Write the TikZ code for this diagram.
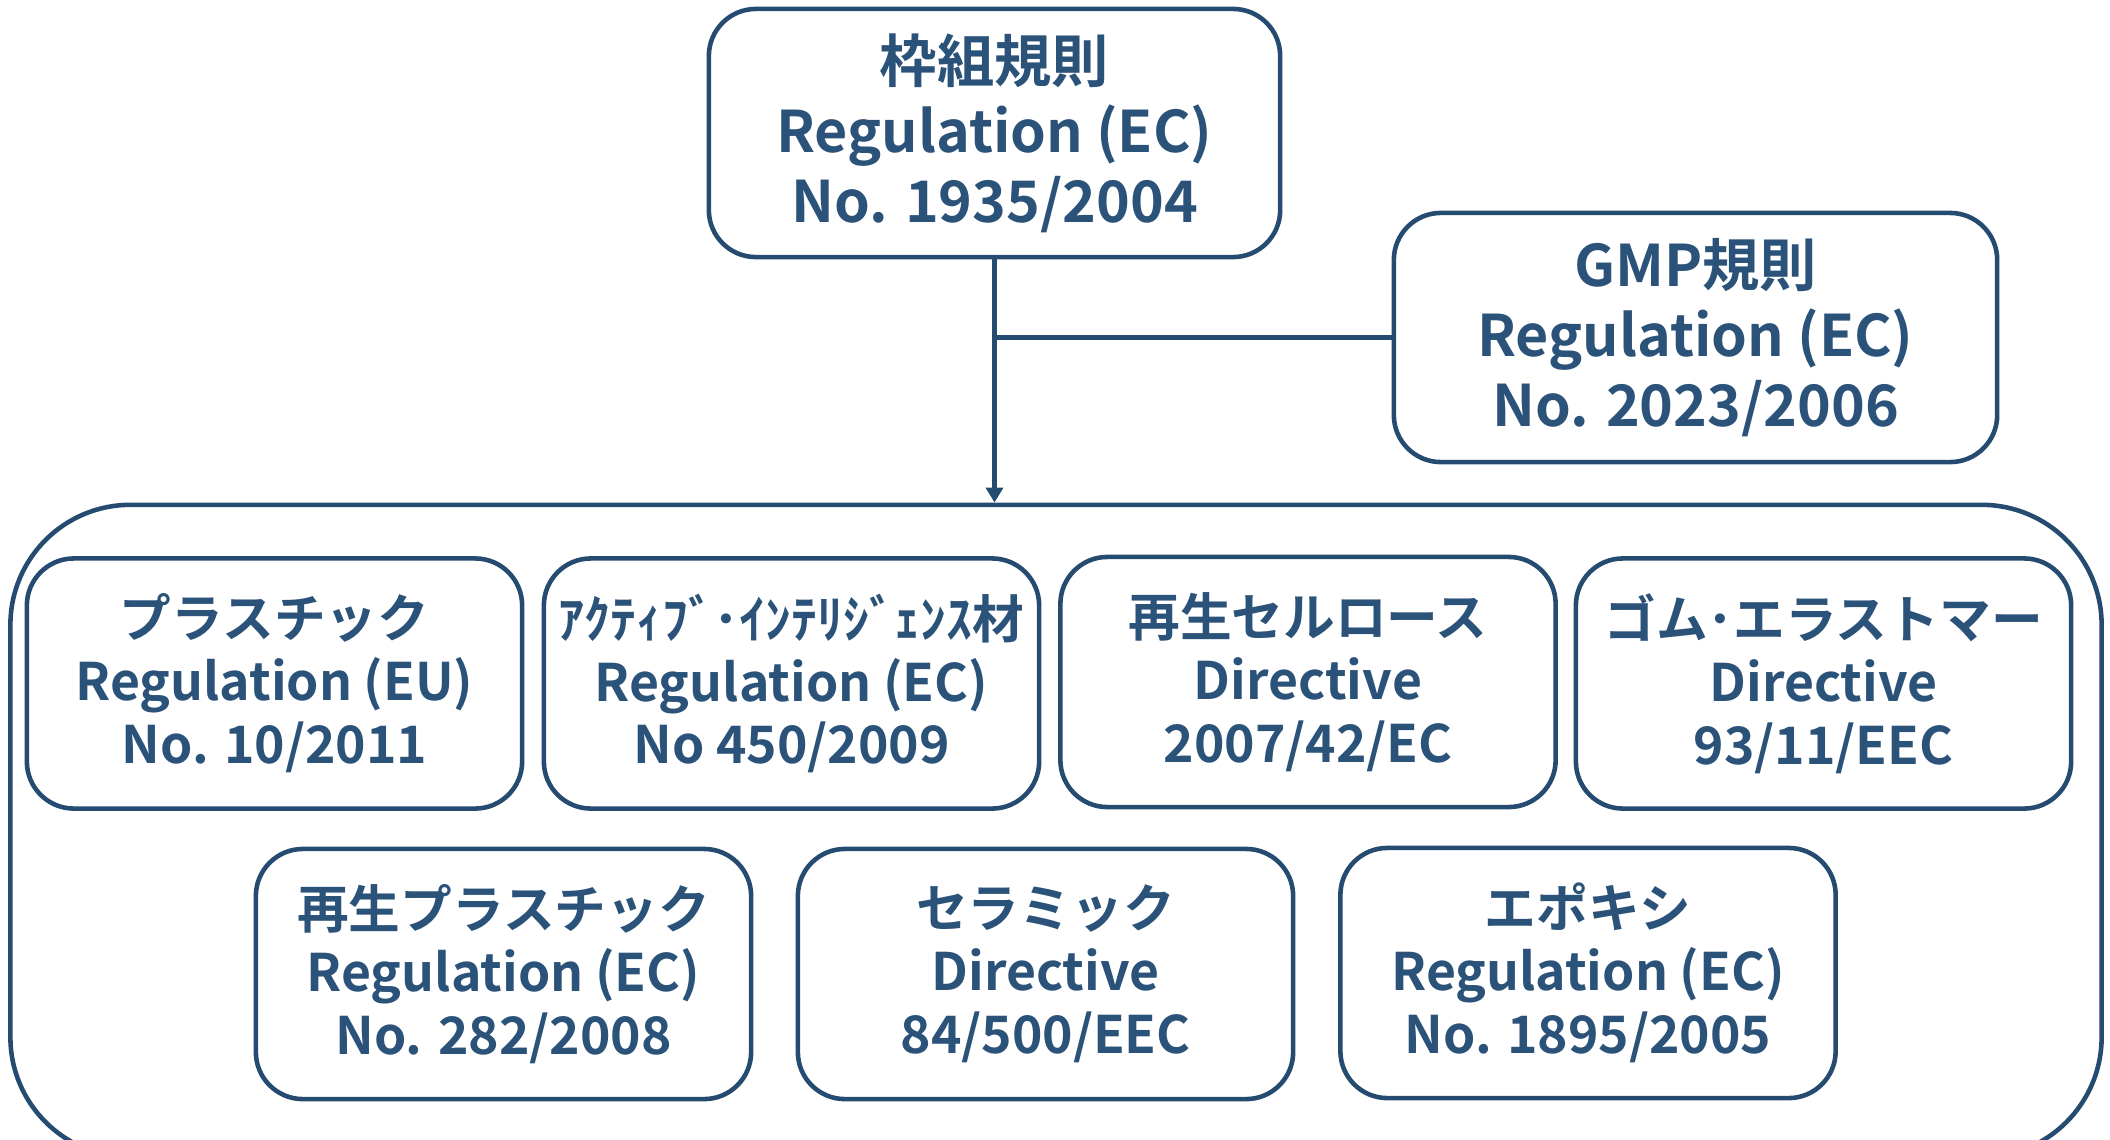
\documentclass[tikz,border=0pt]{standalone}
\usepackage{fontspec}
\setmainfont{Noto Sans CJK JP}[BoldFont={* Bold}]
\usetikzlibrary{arrows.meta}
\definecolor{txtc}{HTML}{2B5279}
\definecolor{linec}{HTML}{264B71}
\begin{document}
\begin{tikzpicture}[x=0.01cm,y=-0.01cm,
  bigbox/.style={draw=linec,line width=1.3pt,rounded corners=0.47cm,fill=white,
    minimum width=#1,align=center,text=txtc,
    font=\bfseries\fontsize{16.3}{19.9}\selectfont},
  smallbox/.style={draw=linec,line width=1.3pt,rounded corners=0.47cm,fill=white,
    minimum width=4.95cm,minimum height=2.50cm,align=center,text=txtc,
    font=\bfseries\fontsize{14.7}{17.9}\selectfont},
  conn/.style={draw=linec,line width=1.3pt}]
\useasboundingbox (0,0) rectangle (2110,1139);
% outer container
\node[draw=linec,line width=1.3pt,rounded corners=1.2cm,minimum width=20.90cm,minimum height=6.52cm] (cont) at (1056,831) {};
% top boxes
\node[bigbox=5.71cm,minimum height=2.48cm] (top) at (994.5,133) {枠組規則\\Regulation (EC)\\No. 1935/2004};
\node[bigbox=6.03cm,minimum height=2.49cm] (gmp) at (1695.5,337.5) {GMP規則\\Regulation (EC)\\No. 2023/2006};
% row 1
\node[smallbox] (b1) at (274.5,683.5) {プラスチック\\Regulation (EU)\\No. 10/2011};
\node[smallbox] (b2) at (791.5,683.5) {ｱｸﾃｨﾌﾞ･ｲﾝﾃﾘｼﾞｪﾝｽ材\\Regulation (EC)\\No 450/2009};
\node[smallbox] (b3) at (1308,682) {再生セルロース\\Directive\\2007/42/EC};
\node[smallbox] (b4) at (1823.5,683.5) {ゴム･エラストマー\\Directive\\93/11/EEC};
% row 2
\node[smallbox] (b5) at (503.5,974) {再生プラスチック\\Regulation (EC)\\No. 282/2008};
\node[smallbox] (b6) at (1045.5,974) {セラミック\\Directive\\84/500/EEC};
\node[smallbox] (b7) at (1588,973) {エポキシ\\Regulation (EC)\\No. 1895/2005};
% connectors
\coordinate (j) at (top.south |- gmp.west);
\draw[conn,-{Triangle[length=0.15cm,width=0.17cm]}] (top.south) -- (top.south |- cont.north);
\draw[conn] (gmp.west) -- (j);
\end{tikzpicture}
\end{document}
